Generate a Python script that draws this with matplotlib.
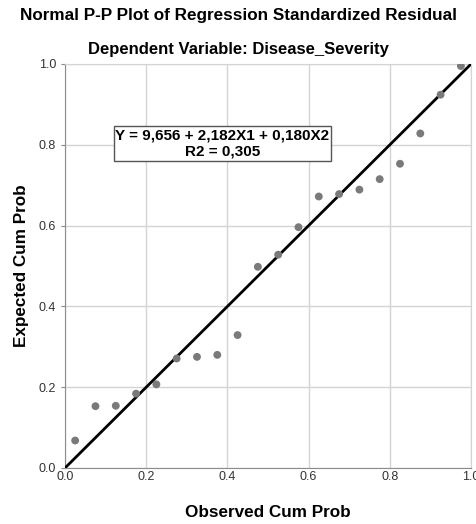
import numpy as np
import matplotlib.pyplot as plt

plt.rcParams['font.family'] = ['Liberation Sans', 'DejaVu Sans']

# observed cumulative probability, (i - 0.5) / n with n = 20
observed = [0.025, 0.075, 0.125, 0.175, 0.225, 0.275, 0.325, 0.375, 0.425, 0.475,
            0.525, 0.575, 0.625, 0.675, 0.725, 0.775, 0.825, 0.875, 0.925, 0.975]
# expected cumulative probability
expected = [0.068, 0.153, 0.154, 0.184, 0.207, 0.271, 0.275, 0.280, 0.329, 0.498,
            0.528, 0.596, 0.672, 0.678, 0.689, 0.715, 0.753, 0.828, 0.924, 0.995]
ticks = [0.0, 0.2, 0.4, 0.6, 0.8, 1.0]
tick_labels = ['0.0', '0.2', '0.4', '0.6', '0.8', '1.0']

fig = plt.figure(figsize=(4.76, 5.24), dpi=100)
ax = fig.add_axes([0.1366, 0.1069, 0.853, 0.771])

ax.grid(True, color='#d4d4d4', lw=1)
ax.set_axisbelow(True)
ax.plot([0, 1], [0, 1], color='black', lw=2, zorder=3, solid_capstyle='butt')
ax.scatter(observed, expected, s=32, color='#7a7a7a', edgecolors='none', zorder=4)

ax.set_xlim(0, 1)
ax.set_ylim(0, 1)
ax.set_xticks(ticks)
ax.set_xticklabels(tick_labels)
ax.set_yticks(ticks)
ax.set_yticklabels(tick_labels)
ax.tick_params(axis='both', labelsize=9, colors='#333333', length=3, color='#888888')
ax.tick_params(axis='x', length=0, pad=2)
for s in ['top', 'right']:
    ax.spines[s].set_color('#d4d4d4')
for s in ['left', 'bottom']:
    ax.spines[s].set_color('#8c8c8c')

ax.set_xlabel('Observed Cum Prob', fontsize=12.3, fontweight='bold', labelpad=16)
ax.set_ylabel('Expected Cum Prob', fontsize=12.3, fontweight='bold', labelpad=7)

fig.text(0.5, 0.971, 'Normal P-P Plot of Regression Standardized Residual',
         ha='center', va='center', fontsize=12.3, fontweight='bold')
fig.text(0.5, 0.905, 'Dependent Variable: Disease_Severity',
         ha='center', va='center', fontsize=12, fontweight='bold')

ax.text(0.388, 0.803, 'Y = 9,656 + 2,182X1 + 0,180X2\nR2 = 0,305',
        ha='center', va='center', fontsize=11, fontweight='bold', linespacing=1.25,
        bbox=dict(boxstyle='square,pad=0.12', facecolor='white', edgecolor='#555555', lw=1),
        zorder=5)

fig.savefig('out.png', dpi=100)
